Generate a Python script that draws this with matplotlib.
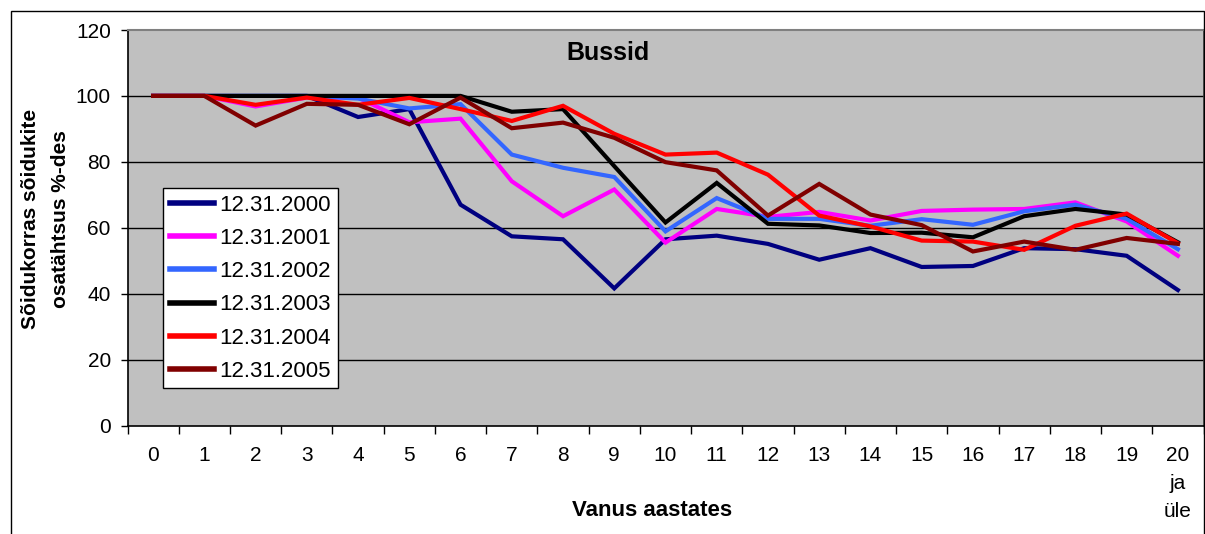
import matplotlib
matplotlib.use("Agg")
import matplotlib.pyplot as plt
from matplotlib.patches import Rectangle

plt.rcParams['font.family'] = ['Liberation Sans', 'DejaVu Sans']

categories = ['0', '1', '2', '3', '4', '5', '6', '7', '8', '9', '10', '11', '12',
              '13', '14', '15', '16', '17', '18', '19', '20\nja\nüle']

s2000 = [100, 100, 100, 100, 93.6, 96.0, 67.0, 57.4, 56.5, 41.6, 56.5, 57.6, 55.1,
         50.3, 53.8, 48.1, 48.4, 53.8, 53.5, 51.5, 41.1]
s2001 = [100, 100, 96.8, 99.5, 99.5, 92.0, 93.1, 74.1, 63.5, 71.6, 55.5, 65.7, 63.3,
         64.8, 62.2, 65.1, 65.5, 65.7, 67.7, 61.9, 51.5]
s2002 = [100, 100, 100, 100, 99.2, 96.2, 97.5, 82.2, 78.2, 75.4, 58.9, 69.0, 62.7,
         62.7, 60.6, 62.6, 60.9, 65.0, 67.0, 62.7, 53.5]
s2003 = [100, 100, 100, 100, 100, 100, 100, 95.2, 96.0, 78.7, 61.6, 73.6, 61.2,
         60.7, 58.4, 58.5, 57.1, 63.5, 65.7, 64.0, 55.6]
s2004 = [100, 100, 97.3, 99.5, 97.3, 99.4, 96.0, 92.4, 97.0, 88.5, 82.2, 82.8, 76.1,
         63.7, 60.4, 56.1, 55.8, 53.3, 60.6, 64.3, 55.3]
s2005 = [100, 100, 91.0, 97.6, 97.3, 91.4, 99.5, 90.2, 91.9, 87.3, 79.9, 77.4, 63.7,
         73.3, 64.0, 60.8, 52.8, 55.8, 53.3, 56.9, 55.1]

series_labels = ['12.31.2000', '12.31.2001', '12.31.2002', '12.31.2003', '12.31.2004', '12.31.2005']
series_colors = ['#000080', '#FF00FF', '#3366FF', '#000000', '#FF0000', '#800000']
series_values = [s2000, s2001, s2002, s2003, s2004, s2005]

title = 'Bussid'
xlabel = 'Vanus aastates'
ylabel = 'Sõidukorras sõidukite\nosatähtsus %-des'
yticks = [0, 20, 40, 60, 80, 100, 120]

W, H = 1205, 534
fig = plt.figure(figsize=(W / 100, H / 100), dpi=100)
fig.patch.set_facecolor('white')

left, right, top, bottom = 127.5, 1203.5, 30, 425.5
ax = fig.add_axes([left / W, 1 - bottom / H, (right - left) / W, (bottom - top) / H])
ax.set_facecolor('#C0C0C0')

x = list(range(len(categories)))
for vals, lab, col in zip(series_values, series_labels, series_colors):
    ax.plot(x, vals, color=col, lw=3.0, label=lab, solid_joinstyle='miter', zorder=3)

ax.set_xlim(-0.5, len(categories) - 0.5)
ax.set_ylim(0, 120)
ax.set_yticks(yticks)
ax.set_yticklabels([str(v) for v in yticks], fontsize=15)
ax.set_xticks(x)
ax.set_xticklabels(categories, fontsize=15)
ax.set_xticks([i - 0.5 for i in range(len(categories) + 1)], minor=True)
ax.tick_params(axis='x', which='major', length=0, pad=15)
ax.tick_params(axis='x', which='minor', length=6, width=1, direction='out', color='black')
ax.tick_params(axis='y', which='major', length=5, width=1, direction='out', pad=7, color='black')
ax.xaxis.get_ticklabels()[-1].set_linespacing(1.6)

for v in yticks[1:-1]:
    ax.axhline(v, color='black', lw=1.0, zorder=1)

ax.spines['top'].set_color('#808080')
ax.spines['top'].set_linewidth(1.5)
ax.spines['right'].set_color('#404040')
ax.spines['left'].set_color('black')
ax.spines['bottom'].set_color('black')
for s in ['left', 'bottom', 'right']:
    ax.spines[s].set_linewidth(1.2)

fig.text(608 / W, 1 - 53 / H, title, ha='center', va='center', fontsize=18, fontweight='bold')

fig.text(652 / W, 1 - 510 / H, xlabel, ha='center', va='center', fontsize=16, fontweight='bold')
fig.text(45.5 / W, 1 - 219 / H, ylabel, ha='center', va='center', rotation=90,
         fontsize=15, fontweight='bold', linespacing=1.7, multialignment='center')

leg = ax.legend(loc='upper left', bbox_to_anchor=(163 / W, 1 - 188 / H),
                bbox_transform=fig.transFigure, fontsize=16, frameon=True, fancybox=False,
                framealpha=1, edgecolor='black', borderaxespad=0, handlelength=2.0,
                handletextpad=0.25, labelspacing=0.55, borderpad=0.3)
leg.get_frame().set_linewidth(1.0)
for h in leg.get_lines():
    h.set_linewidth(4)

fig.add_artist(Rectangle((11 / W, -0.01), (1203.5 - 11) / W, 1 - 11 / H + 0.01,
                         transform=fig.transFigure, fill=False, edgecolor='black', lw=1.0))

fig.savefig('out.png', dpi=100)
